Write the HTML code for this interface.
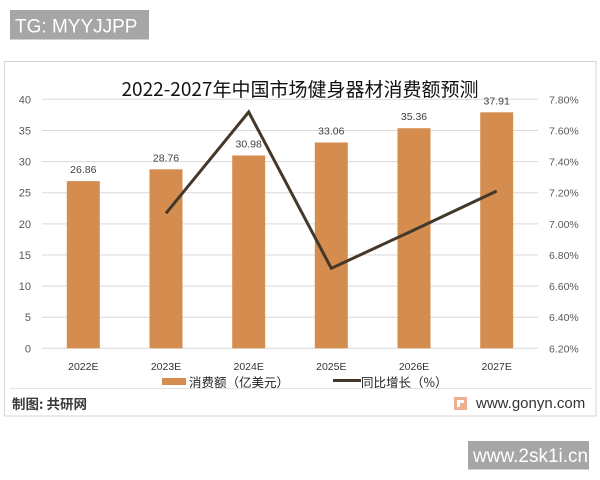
<!DOCTYPE html>
<html>
<head>
<meta charset="utf-8">
<style>
html,body{margin:0;padding:0;background:#fff;}
svg{display:block;}
text{font-family:"Liberation Sans","Noto Sans CJK SC",sans-serif;}
.cjk{font-family:"Noto Sans CJK SC","Liberation Sans",sans-serif;}
</style>
</head>
<body>
<svg width="600" height="480" viewBox="0 0 600 480" xmlns="http://www.w3.org/2000/svg">
  <rect x="0" y="0" width="600" height="480" fill="#fff"/>
  <!-- top watermark -->
  <rect x="10" y="10" width="139" height="29.5" fill="#a6a6a6"/>
  <text x="15" y="32.3" font-size="19" fill="#fff">TG: MYYJJPP</text>

  <!-- frame -->
  <rect x="4.5" y="61.5" width="591.5" height="354.5" fill="#fff" stroke="#d4d4d4" stroke-width="1"/>

  <!-- title -->
  <text x="300" y="96" font-size="19" fill="#111" text-anchor="middle" class="cjk">2022-2027年中国市场健身器材消费额预测</text>

  <!-- gridlines -->
  <g stroke="#d9d9d9" stroke-width="1">
    <line x1="42" y1="348.3" x2="538" y2="348.3"/>
    <line x1="42" y1="317.2" x2="538" y2="317.2"/>
    <line x1="42" y1="286.1" x2="538" y2="286.1"/>
    <line x1="42" y1="255.0" x2="538" y2="255.0"/>
    <line x1="42" y1="223.9" x2="538" y2="223.9"/>
    <line x1="42" y1="192.7" x2="538" y2="192.7"/>
    <line x1="42" y1="161.6" x2="538" y2="161.6"/>
    <line x1="42" y1="130.5" x2="538" y2="130.5"/>
    <line x1="42" y1="99.3" x2="538" y2="99.3"/>
  </g>

  <!-- left axis labels -->
  <g font-size="11" fill="#595959" text-anchor="end">
    <text x="31" y="352.3">0</text>
    <text x="31" y="321.2">5</text>
    <text x="31" y="290.1">10</text>
    <text x="31" y="259.0">15</text>
    <text x="31" y="227.9">20</text>
    <text x="31" y="196.7">25</text>
    <text x="31" y="165.6">30</text>
    <text x="31" y="134.5">35</text>
    <text x="31" y="103.3">40</text>
  </g>

  <!-- right axis labels -->
  <g font-size="10.5" fill="#595959" text-anchor="start">
    <text x="549" y="352.3">6.20%</text>
    <text x="549" y="321.2">6.40%</text>
    <text x="549" y="290.1">6.60%</text>
    <text x="549" y="259.0">6.80%</text>
    <text x="549" y="227.9">7.00%</text>
    <text x="549" y="196.7">7.20%</text>
    <text x="549" y="165.6">7.40%</text>
    <text x="549" y="134.5">7.60%</text>
    <text x="549" y="103.3">7.80%</text>
  </g>

  <!-- bars -->
  <g fill="#d58d4f">
    <rect x="66.8" y="181.1" width="33" height="167.2"/>
    <rect x="149.5" y="169.3" width="33" height="179.0"/>
    <rect x="232.2" y="155.5" width="33" height="192.8"/>
    <rect x="314.8" y="142.5" width="33" height="205.8"/>
    <rect x="397.5" y="128.2" width="33" height="220.1"/>
    <rect x="480.2" y="112.3" width="33" height="236.0"/>
  </g>

  <!-- data labels -->
  <g font-size="10.5" fill="#404040" text-anchor="middle">
    <text x="83.3" y="173.1">26.86</text>
    <text x="166" y="161.3">28.76</text>
    <text x="248.7" y="147.5">30.98</text>
    <text x="331.3" y="134.5">33.06</text>
    <text x="414" y="120.2">35.36</text>
    <text x="496.7" y="104.3">37.91</text>
  </g>

  <!-- line -->
  <polyline points="166,213.3 248.7,112 331.3,268.3 414,230 496.7,191" fill="none" stroke="#44382a" stroke-width="3" stroke-linejoin="miter"/>

  <!-- x labels -->
  <g font-size="10.5" fill="#333" text-anchor="middle">
    <text x="83.3" y="370">2022E</text>
    <text x="166" y="370">2023E</text>
    <text x="248.7" y="370">2024E</text>
    <text x="331.3" y="370">2025E</text>
    <text x="414" y="370">2026E</text>
    <text x="496.7" y="370">2027E</text>
  </g>

  <!-- legend -->
  <rect x="162" y="378" width="24" height="7" fill="#d58d4f"/>
  <text x="189" y="387" font-size="12.5" fill="#222" class="cjk">消费额（亿美元）</text>
  <line x1="333" y1="380.5" x2="361" y2="380.5" stroke="#44382a" stroke-width="3"/>
  <text x="361" y="387" font-size="12.5" fill="#222" class="cjk">同比增长（%）</text>

  <!-- separator -->
  <line x1="10" y1="388.5" x2="592" y2="388.5" stroke="#e3e3e3" stroke-width="1"/>

  <!-- footer -->
  <text x="12" y="409" font-size="13.5" fill="#3a3a3a" font-weight="bold" class="cjk">制图: 共研网</text>
  <rect x="454" y="397" width="13" height="13" fill="#eab08f"/>
  <rect x="457" y="400" width="7" height="3" fill="#fff"/>
  <rect x="457" y="403" width="3" height="4" fill="#fff"/>
  <text x="476" y="408" font-size="15" fill="#333">www.gonyn.com</text>

  <!-- bottom watermark -->
  <rect x="468" y="441" width="121" height="28.5" fill="#a6a6a6"/>
  <text x="473" y="462" font-size="19" fill="#fff">www.2sk1i.cn</text>
</svg>
</body>
</html>
